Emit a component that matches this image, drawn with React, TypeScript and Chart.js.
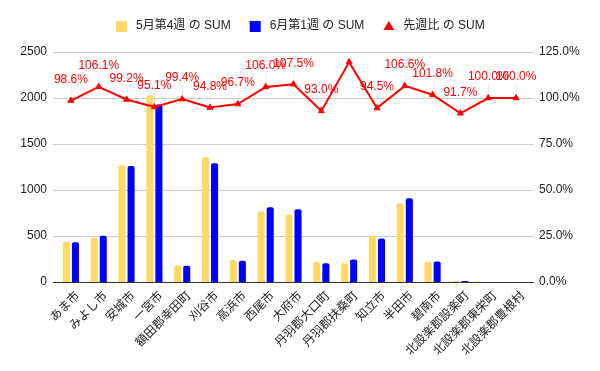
import React, { useEffect, useRef } from "react";
import { Chart, registerables } from "chart.js";

Chart.register(...registerables);

const categories = [
  "あま市", "みよし市", "安城市", "一宮市", "額田郡幸田町", "刈谷市", "高浜市", "西尾市",
  "大府市", "丹羽郡大口町", "丹羽郡扶桑町", "知立市", "半田市", "碧南市",
  "北設楽郡設楽町", "北設楽郡東栄町", "北設楽郡豊根村",
];
const mayWeek4 = [438, 482, 1270, 2030, 178, 1360, 240, 765, 735, 218, 205, 500, 855, 220, 12, 1, 1];
const juneWeek1 = [432, 504, 1260, 1930, 177, 1290, 232, 812, 790, 203, 245, 473, 911, 224, 11, 1, 1];
const ratioPct = [98.6, 106.1, 99.2, 95.1, 99.4, 94.8, 96.7, 106.0, 107.5, 93.0, 119.5, 94.5, 106.6, 101.8, 91.7, 100.0, 100.0];
const hiddenLabelIdx = [10];
const seriesNames = ["5月第4週 の SUM", "6月第1週 の SUM", "先週比 の SUM"];
const leftTicks = [0, 500, 1000, 1500, 2000, 2500];
const rightTicksPct = [0, 25, 50, 75, 100, 125];

const FONT = "'Liberation Sans', Arial, 'Noto Sans CJK JP', sans-serif";
const COLORS = ["#ffd966", "#0000ff", "#ff0000"];

const gridPlugin = {
  id: "extGrid",
  beforeDatasetsDraw(chart: any) {
    const { ctx, chartArea } = chart;
    const y = chart.scales.y;
    ctx.save();
    ctx.lineWidth = 1;
    y.ticks.forEach((t: any) => {
      const py = Math.round(y.getPixelForValue(t.value)) + 0.5;
      ctx.strokeStyle = t.value === 0 ? "#333333" : "#cccccc";
      ctx.beginPath();
      ctx.moveTo(chartArea.left - 4, py);
      ctx.lineTo(chartArea.right + 4, py);
      ctx.stroke();
    });
    ctx.restore();
  },
};

const legendPlugin = {
  id: "customLegend",
  afterDraw(chart: any) {
    const ctx = chart.ctx;
    ctx.save();
    ctx.font = "12px " + FONT;
    const marker = 11;
    const gap = 9;
    const itemGap = 19;
    const widths = seriesNames.map((n) => marker + gap + ctx.measureText(n).width);
    const total = widths.reduce((a, b) => a + b, 0) + itemGap * (widths.length - 1);
    let x = Math.round(chart.width / 2 - total / 2);
    const cy = 26;
    seriesNames.forEach((name, i) => {
      ctx.fillStyle = COLORS[i];
      if (i < 2) {
        ctx.fillRect(x, cy - 5, marker, 11);
      } else {
        ctx.beginPath();
        ctx.moveTo(x + marker / 2, cy - 5);
        ctx.lineTo(x + marker, cy + 4);
        ctx.lineTo(x, cy + 4);
        ctx.closePath();
        ctx.fill();
      }
      ctx.fillStyle = "#222222";
      ctx.textAlign = "left";
      ctx.textBaseline = "middle";
      ctx.fillText(name, x + marker + gap, cy);
      x += widths[i] + itemGap;
    });
    ctx.restore();
  },
};

const labelPlugin = {
  id: "ratioLabels",
  afterDatasetsDraw(chart: any) {
    const meta = chart.getDatasetMeta(2);
    const ctx = chart.ctx;
    ctx.save();
    meta.data.forEach((pt: any, i: number) => {
      if (hiddenLabelIdx.includes(i)) return;
      const x = Math.round(pt.x) + 0.5;
      ctx.strokeStyle = "rgba(0,0,0,0.08)";
      ctx.lineWidth = 1;
      ctx.beginPath();
      ctx.moveTo(x, pt.y - 14);
      ctx.lineTo(x, pt.y - 4);
      ctx.stroke();
    });
    ctx.font = "12px " + FONT;
    ctx.fillStyle = "#ff0000";
    ctx.textAlign = "center";
    ctx.textBaseline = "middle";
    meta.data.forEach((pt: any, i: number) => {
      if (hiddenLabelIdx.includes(i)) return;
      ctx.fillText(ratioPct[i].toFixed(1) + "%", pt.x, pt.y - 21);
    });
    ctx.restore();
  },
};

export default function App() {
  const ref = useRef<HTMLCanvasElement>(null);
  useEffect(() => {
    document.body.style.margin = "0";
    const barCommon = {
      type: "bar",
      borderRadius: { topLeft: 2, topRight: 2 },
      borderSkipped: "bottom",
      yAxisID: "y",
      categoryPercentage: 0.65,
      barPercentage: 0.78,
      order: 2,
    };
    const chart = new Chart(ref.current!, {
      type: "bar",
      data: {
        labels: categories,
        datasets: [
          { ...barCommon, label: seriesNames[0], data: mayWeek4, backgroundColor: COLORS[0] },
          { ...barCommon, label: seriesNames[1], data: juneWeek1, backgroundColor: COLORS[1] },
          {
            type: "line",
            label: seriesNames[2],
            data: ratioPct,
            borderColor: COLORS[2],
            backgroundColor: COLORS[2],
            borderWidth: 2,
            pointStyle: "triangle",
            pointRadius: 3.5,
            pointBorderWidth: 1,
            yAxisID: "y1",
            order: 1,
          },
        ],
      },
      options: {
        animation: false,
        responsive: false,
        layout: { padding: { top: 52 } },
        plugins: {
          legend: { display: false },
          tooltip: { enabled: false },
        },
        scales: {
          x: {
            grid: { display: false, drawTicks: false },
            border: { display: false },
            ticks: {
              autoSkip: false,
              maxRotation: 45,
              minRotation: 45,
              labelOffset: 6,
              padding: 6,
              color: "#222",
              font: { family: "'Noto Sans CJK JP', " + FONT, size: 12 },
            },
            afterFit(scale: any) {
              scale.height = 89;
            },
          },
          y: {
            position: "left",
            min: 0,
            max: 2500,
            afterBuildTicks(scale: any) {
              scale.ticks = leftTicks.map((v) => ({ value: v }));
            },
            grid: { display: false, drawTicks: false },
            border: { display: false },
            ticks: {
              color: "#222",
              font: { family: FONT, size: 12 },
              padding: 10,
              callback: (v: any) => String(v),
            },
            afterFit(scale: any) {
              scale.width = 57;
            },
          },
          y1: {
            position: "right",
            min: 0,
            max: 125,
            afterBuildTicks(scale: any) {
              scale.ticks = rightTicksPct.map((v) => ({ value: v }));
            },
            grid: { display: false, drawTicks: false },
            border: { display: false },
            ticks: {
              color: "#222",
              font: { family: FONT, size: 12 },
              padding: 9,
              callback: (v: any) => Number(v).toFixed(1) + "%",
            },
            afterFit(scale: any) {
              scale.width = 70;
            },
          },
        },
      },
      plugins: [gridPlugin, labelPlugin, legendPlugin],
    } as any);
    return () => chart.destroy();
  }, []);
  return (
    <div style={{ position: "absolute", left: 0, top: 0, width: 600, height: 371 }}>
      <canvas ref={ref} width={600} height={371} style={{ width: 600, height: 371, display: "block" }} />
    </div>
  );
}
